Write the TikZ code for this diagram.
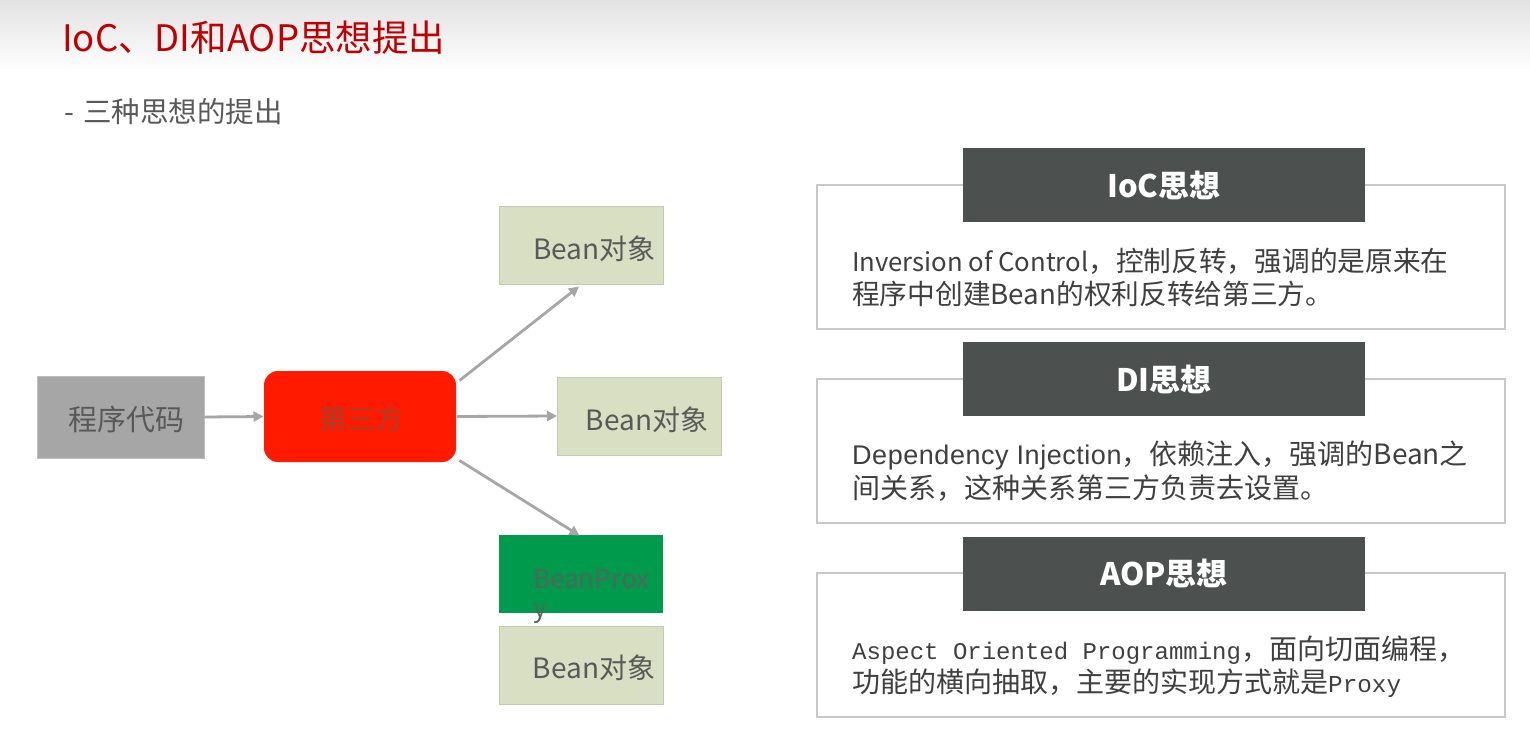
\documentclass[tikz,border=0pt]{standalone}
\usepackage{fontspec}
\setmainfont{Noto Sans CJK SC}
\newfontfamily\arialf{Liberation Sans}[LetterSpace=2]
\newfontfamily\monof{Liberation Mono}
\usetikzlibrary{arrows.meta,calc}
\definecolor{titlered}{HTML}{C00000}
\definecolor{subgray}{HTML}{595959}
\definecolor{codegray}{HTML}{A6A6A6}
\definecolor{codeedge}{HTML}{BDBDBD}
\definecolor{thirdred}{HTML}{FF1A00}
\definecolor{thirdtext}{HTML}{A5402E}
\definecolor{beanfill}{HTML}{D8DFC2}
\definecolor{beanedge}{HTML}{C4CAB4}
\definecolor{proxygreen}{HTML}{009A4C}
\definecolor{proxytext}{HTML}{52665A}
\definecolor{headfill}{HTML}{4C5150}
\definecolor{paneledge}{HTML}{C8C8C8}
\definecolor{bodytext}{HTML}{3F3F3F}
\definecolor{arrowgray}{HTML}{A6A6A6}
\definecolor{topgray}{HTML}{E2E2E2}
\begin{document}
\begin{tikzpicture}[x=1pt,y=-1pt,
  box/.style={rectangle,inner sep=0pt,line width=1pt},
  codebox/.style={box,fill=codegray,draw=codeedge,minimum width=167,minimum height=82},
  thirdbox/.style={box,fill=thirdred,rounded corners=14pt,minimum width=192,minimum height=91},
  beanbox/.style={box,fill=beanfill,draw=beanedge,minimum width=164,minimum height=78},
  proxybox/.style={box,fill=proxygreen,minimum width=164,minimum height=78},
  lefttext/.style={inner sep=0pt,font=\fontsize{28}{32}\selectfont},
  panel/.style={box,fill=white,draw=paneledge,line width=1.5pt,minimum width=688,minimum height=144},
  header/.style={box,fill=headfill,minimum width=402,minimum height=74,text=white,font=\fontsize{31}{36}\selectfont\bfseries},
  bodyline/.style={anchor=base west,inner sep=0pt,text=bodytext,font=\fontsize{27.7}{33}\selectfont},
  arr/.style={draw=arrowgray,line width=2.8pt,-{Triangle[length=10pt,width=10pt]}}
]
\useasboundingbox (0,0) rectangle (1530,738);
\fill[white] (0,0) rectangle (1530,738);
\shade[top color=topgray,bottom color=white] (0,0) rectangle (1530,72);

% title
\node[anchor=base west,inner sep=0pt,text=titlered,font=\fontsize{36.5}{40}\selectfont] (title) at (62,52) {IoC、DI和AOP思想提出};
\node[anchor=base west,inner sep=0pt,text=subgray,font=\fontsize{28.5}{34}\selectfont] (subtitle) at (64,123) {-\hspace{9pt}三种思想的提出};

% left diagram
\node[codebox] (code) at (120.5,417) {};
\node[lefttext,text=subgray,font=\fontsize{29}{32}\selectfont] (codetext) at (126.5,419) {程序代码};
\node[thirdbox] (third) at (360,416.5) {};
\node[lefttext,text=thirdtext] (thirdtext) at (361.5,419) {第三方};
\node[beanbox] (bean1) at (581.5,245) {};
\node[lefttext,text=subgray] (bean1text) at (594.5,249) {Bean对象};
\node[beanbox] (bean2) at (639.5,416) {};
\node[lefttext,text=subgray] (bean2text) at (647,420) {Bean对象};
\node[proxybox] (proxy) at (581,574) {};
\node[beanbox] (bean3) at (581,665) {};
\node[lefttext,text=subgray] (bean3text) at (594,668) {Bean对象};
\node[anchor=base west,inner sep=0pt,text=proxytext,font=\fontsize{26}{30}\selectfont] (proxytext1) at (533,588) {BeanProx};
\node[anchor=base west,inner sep=0pt,text=proxytext,font=\fontsize{26}{30}\selectfont] (proxytext2) at (533,617) {y};

\draw[arr] (code.east) -- (third.west);
\draw[arr] ($(third.north east)+(3,10)$) -- ($(bean1.south west)+(80,2)$);
\draw[arr] (third.east) -- (bean2.west);
\draw[arr] ($(third.south east)+(3,-2)$) -- ($(proxy.north west)+(81,1)$);

% right panels
\node[panel] (p1) at (1161,257) {};
\node[header] (h1) at (1164,185) {IoC思想};
\node[bodyline] (b1a) at (852,271) {{\fontsize{25.7}{33}\selectfont Inversion of Control}，控制反转，强调的是原来在};
\node[bodyline] (b1b) at (852,304) {程序中创建Bean的权利反转给第三方。};

\node[panel] (p2) at (1161,451) {};
\node[header] (h2) at (1164,379) {DI思想};
\node[bodyline,font=\fontsize{28}{33}\selectfont] (b2a) at (852,464) {{\arialf\fontsize{27}{33}\selectfont Dependency Injection}，依赖注入，强调的Bean之};
\node[bodyline,font=\fontsize{28}{33}\selectfont] (b2b) at (852,498) {间关系，这种关系第三方负责去设置。};

\node[panel] (p3) at (1161,645) {};
\node[header] (h3) at (1164,573.5) {AOP思想};
\node[bodyline,font=\fontsize{28}{33}\selectfont] (b3a) at (852,659) {{\monof\fontsize{24}{33}\selectfont Aspect Oriented Programming}，面向切面编程，};
\node[bodyline,font=\fontsize{28}{33}\selectfont] (b3b) at (852,692) {功能的横向抽取，主要的实现方式就是{\monof\fontsize{24.3}{33}\selectfont Proxy}};
\end{tikzpicture}
\end{document}
